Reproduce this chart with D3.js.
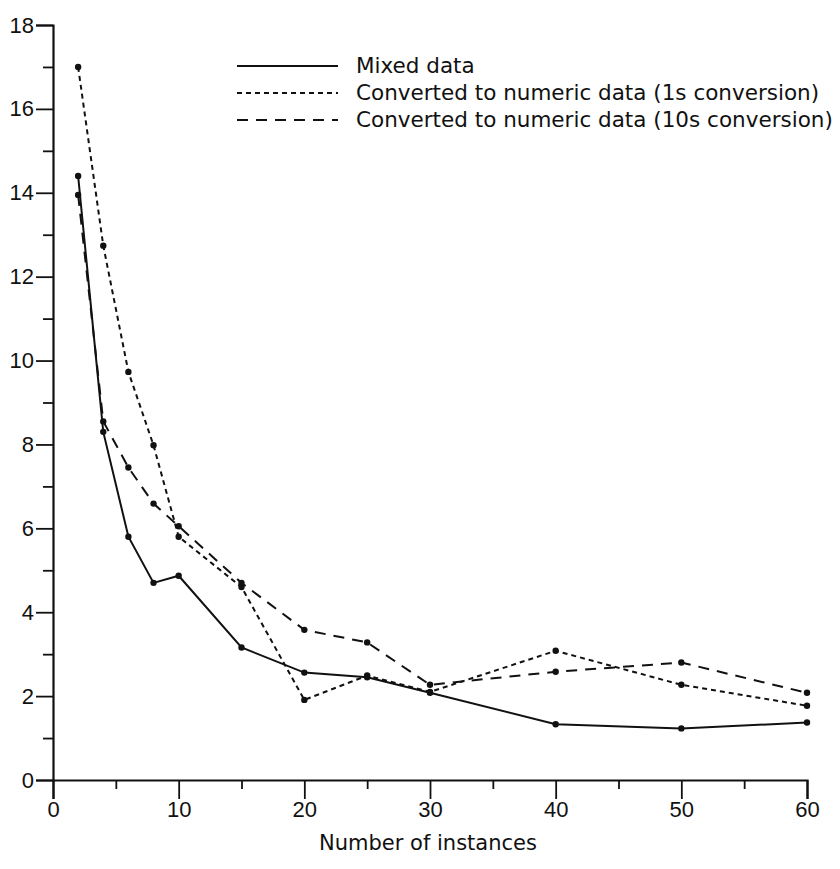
<!DOCTYPE html>
<html><head><meta charset="utf-8">
<script src="https://cdn.jsdelivr.net/npm/d3@7"></script>
<style>
html,body{margin:0;padding:0;background:#fff;}
svg{display:block;}
text{fill:#111;}
</style></head>
<body>
<svg id="chart" width="840" height="869"></svg>
<script>
// ---- data ----
const instances = [2, 4, 6, 8, 10, 15, 20, 25, 30, 40, 50, 60];
const mixedData = [14.4, 8.3, 5.8, 4.7, 4.87, 3.16, 2.56, 2.45, 2.08, 1.33, 1.23, 1.37];
const converted1s = [17.0, 12.74, 9.73, 7.98, 5.8, 4.6, 1.91, 2.49, 2.1, 3.08, 2.27, 1.77];
const converted10s = [13.95, 8.55, 7.45, 6.59, 6.05, 4.7, 3.58, 3.28, 2.27, 2.58, 2.8, 2.08];
const seriesNames = ["Mixed data", "Converted to numeric data (1s conversion)", "Converted to numeric data (10s conversion)"];
const xTicksMajor = [0, 10, 20, 30, 40, 50, 60];
const yTicksMajor = [0, 2, 4, 6, 8, 10, 12, 14, 16, 18];
const xLabel = "Number of instances";

const svg = d3.select("#chart");
const x = d3.scaleLinear().domain([0, 60]).range([53, 807]);
const y = d3.scaleLinear().domain([0, 18]).range([780, 25]);

const ink = "#111";
const tickFont = "'Liberation Sans', Arial, sans-serif";
const textFont = "'DejaVu Sans', sans-serif";

// y axis
const yAxis = d3.axisLeft(y).tickValues(yTicksMajor).tickSize(17).tickPadding(2).tickFormat(d3.format("d"));
const gy = svg.append("g").attr("transform", `translate(${x(0)},0)`).call(yAxis);
const yMinor = d3.axisLeft(y).tickValues(d3.range(1, 18, 2)).tickSize(10).tickFormat("");
svg.append("g").attr("transform", `translate(${x(0)},0)`).call(yMinor).select(".domain").remove();

// x axis
const xAxis = d3.axisBottom(x).tickValues(xTicksMajor).tickSize(19).tickPadding(1).tickFormat(d3.format("d"));
const gx = svg.append("g").attr("transform", `translate(0,${y(0)})`).call(xAxis);
const xMinor = d3.axisBottom(x).tickValues(d3.range(5, 60, 10)).tickSize(9).tickFormat("");
svg.append("g").attr("transform", `translate(0,${y(0)})`).call(xMinor).select(".domain").remove();

svg.selectAll(".domain").attr("stroke", ink).attr("stroke-width", 2.2);
svg.selectAll(".tick line").attr("stroke", ink).attr("stroke-width", 1.8);
svg.selectAll(".tick text").attr("font-family", tickFont).attr("font-size", 22).attr("fill", ink);
gx.selectAll(".tick text").attr("dy", "0.75em");

// axis title
svg.append("text").attr("x", 428).attr("y", 850).attr("text-anchor", "middle")
  .attr("font-family", textFont).attr("font-size", 21).text(xLabel);

// series
const series = [
  {name: seriesNames[0], values: mixedData, dash: null},
  {name: seriesNames[1], values: converted1s, dash: "5,4"},
  {name: seriesNames[2], values: converted10s, dash: "11,8"}
];
const line = d3.line().x(d => x(d[0])).y(d => y(d[1]));
series.forEach(s => {
  const pts = instances.map((v, i) => [v, s.values[i]]);
  svg.append("path").datum(pts).attr("d", line)
    .attr("fill", "none").attr("stroke", ink).attr("stroke-width", 2)
    .attr("stroke-dasharray", s.dash);
  svg.append("g").selectAll("circle").data(pts).join("circle")
    .attr("cx", d => x(d[0])).attr("cy", d => y(d[1])).attr("r", 3.2).attr("fill", ink);
});

// legend
const lg = svg.append("g");
series.forEach((s, i) => {
  const ly = 66 + i * 27;
  lg.append("line").attr("x1", 237).attr("x2", 338).attr("y1", ly).attr("y2", ly)
    .attr("stroke", ink).attr("stroke-width", 2).attr("stroke-dasharray", s.dash);
  lg.append("text").attr("x", 356).attr("y", ly + 7)
    .attr("font-family", textFont).attr("font-size", 21.5).text(s.name);
});
</script>
</body></html>
